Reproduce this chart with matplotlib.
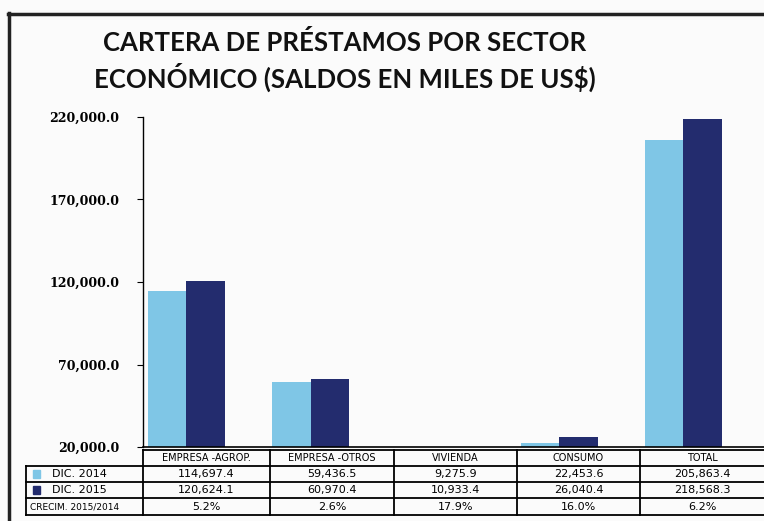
import numpy as np
import matplotlib.pyplot as plt
from matplotlib.lines import Line2D
from matplotlib.patches import Rectangle

categories = ["EMPRESA -AGROP.", "EMPRESA -OTROS", "VIVIENDA", "CONSUMO", "TOTAL"]
dic2014 = [114697.4, 59436.5, 9275.9, 22453.6, 205863.4]
dic2015 = [120624.1, 60970.4, 10933.4, 26040.4, 218568.3]
growth = ["5.2%", "2.6%", "17.9%", "16.0%", "6.2%"]
series_names = ["DIC. 2014", "DIC. 2015"]
growth_label = "CRECIM. 2015/2014"
title = "CARTERA DE PRÉSTAMOS POR SECTOR\nECONÓMICO (SALDOS EN MILES DE US$)"
yticks = [20000, 70000, 120000, 170000, 220000]

light = "#7fc6e6"
dark = "#232c6e"
narrow = ["DejaVu Sans"]

W, H = 764, 521
fig = plt.figure(figsize=(W / 100, H / 100), dpi=100)
fig.patch.set_facecolor("#fbfbfb")


def fx(px):
    return px / W


def fy(py):
    return 1 - py / H


# chart area
ax = fig.add_axes([fx(143), fy(447), fx(764) - fx(143), fy(117) - fy(447)])
ax.set_facecolor("#fbfbfb")
x = np.arange(len(categories))
w = 0.31
ax.bar(x - 0.305, dic2014, w, color=light, zorder=2)
ax.bar(x + 0.005, dic2015, w, color=dark, zorder=2)
ax.set_xlim(-0.5, len(categories) - 0.5)
ax.set_ylim(20000, 220000)
ax.set_yticks(yticks)
ax.set_yticklabels(["{:,.1f}".format(v) for v in yticks],
                   fontfamily="DejaVu Serif", fontweight="bold", fontsize=9)
ax.tick_params(axis="y", length=4, width=0.8, pad=13)
ax.set_xticks([])
for s in ["top", "right"]:
    ax.spines[s].set_visible(False)
ax.spines["left"].set_linewidth(1.0)
ax.spines["bottom"].set_linewidth(1.2)

fig.text(fx(345), fy(61), title, ha="center", va="center", fontsize=18.5,
         fontweight="bold", fontfamily="Lato", linespacing=1.3, color="#111111")

# table under the chart
col_edges = [26, 143, 270, 394, 517, 640, 764]
row_edges = [450, 466, 482, 498, 515]
lw = 1.3
# horizontal lines
fig.add_artist(Line2D([fx(143), fx(764)], [fy(row_edges[0])] * 2, color="k", lw=lw))
for r in row_edges[1:]:
    fig.add_artist(Line2D([fx(26), fx(764)], [fy(r)] * 2, color="k", lw=lw))
# vertical lines
for c in col_edges[1:-1]:
    fig.add_artist(Line2D([fx(c)] * 2, [fy(450), fy(515)], color="k", lw=lw))
fig.add_artist(Line2D([fx(26)] * 2, [fy(466), fy(515)], color="k", lw=lw))

rows = [
    ["{:,.1f}".format(v) for v in dic2014],
    ["{:,.1f}".format(v) for v in dic2015],
    growth,
]
for j, cat in enumerate(categories):
    cx = (col_edges[j + 1] + col_edges[j + 2]) / 2
    fig.text(fx(cx), fy(458), cat, ha="center", va="center", fontsize=7,
             fontfamily=narrow)
    for i, row in enumerate(rows):
        cy = (row_edges[i + 1] + row_edges[i + 2]) / 2
        fig.text(fx(cx), fy(cy), row[j], ha="center", va="center", fontsize=8,
                 fontfamily=narrow)

for i, (name, col) in enumerate(zip(series_names, [light, dark])):
    cy = (row_edges[i + 1] + row_edges[i + 2]) / 2
    fig.add_artist(Rectangle((fx(33), fy(cy + 4)), fx(7), fy(0) - fy(8),
                             color=col))
    fig.text(fx(52), fy(cy), name, ha="left", va="center", fontsize=8,
             fontfamily=narrow)
fig.text(fx(30), fy((row_edges[3] + row_edges[4]) / 2), growth_label,
         ha="left", va="center", fontsize=6.5, fontfamily=narrow)

# outer frame
fig.add_artist(Line2D([fx(8), 1], [fy(14)] * 2, color="#222222", lw=2.5))
fig.add_artist(Line2D([fx(9)] * 2, [fy(13), 0], color="#222222", lw=2.5))

fig.savefig("out.png", dpi=100, facecolor=fig.get_facecolor())
